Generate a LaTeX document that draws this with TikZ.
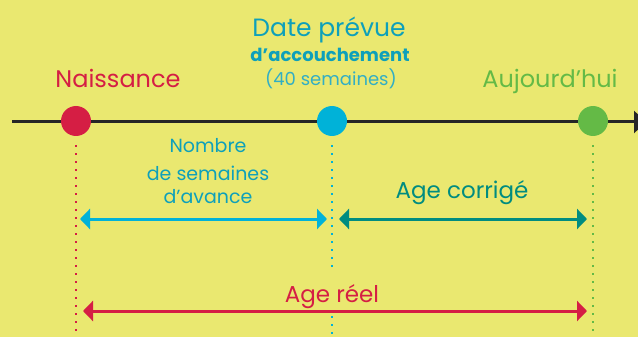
\documentclass[tikz,border=0pt]{standalone}
\usepackage{fontspec}
\setmainfont{Poppins}
\usetikzlibrary{arrows.meta, positioning}
\definecolor{bgyellow}{RGB}{234,232,112}
\definecolor{birthred}{RGB}{213,30,68}
\definecolor{duecyan}{RGB}{0,178,216}
\definecolor{duetext}{RGB}{14,160,186}
\definecolor{todaygreen}{RGB}{100,186,70}
\definecolor{corrteal}{RGB}{0,140,128}

\begin{document}
\begin{tikzpicture}[x=1pt, y=-1pt,
    event/.style={circle, fill=#1, minimum size=30pt, inner sep=0pt},
    guide/.style={#1, line width=2pt, dash pattern=on 2pt off 6pt},
    span/.style={#1, line width=3pt, {Triangle[length=10pt,width=20pt]}-{Triangle[length=10pt,width=20pt]}},
    tag/.style={text=#1, anchor=base, inner sep=0pt}]
        % Background
        \fill[bgyellow] (0,0) rectangle (638,337);
        \useasboundingbox (0,0) rectangle (638,337);
        \clip (0,0) rectangle (638,337);

        % Timeline
        \coordinate (start) at (12,122);
        \coordinate (end) at (646,122);
        \draw[line width=3pt, black!85, -{Triangle[length=12pt,width=22pt]}] (start) -- (end);

        % Events
        \node[event=birthred] (birth) at (76,121) {};
        \node[event=duecyan] (due) at (332,121) {};
        \node[event=todaygreen] (today) at (593,121) {};

        \node[tag=birthred, font=\fontsize{24}{24}\selectfont] (birthTxt) at (118,88) {Naissance};
        \node[tag=duetext, font=\fontsize{25}{25}\selectfont] (dueTxt) at (329,37) {Date prévue};
        \node[tag=duetext, font=\fontsize{18}{18}\selectfont\bfseries] (dueTxt2) at (330,62) {d’accouchement};
        \node[tag=duetext!85, font=\fontsize{18}{18}\selectfont] (dueTxt3) at (331,85) {(40 semaines)};
        \node[tag=todaygreen, font=\fontsize{24}{24}\selectfont] (todayTxt) at (550,88) {Aujourd’hui};

        % Guide lines
        \coordinate (birthTop) at (76,145);
        \coordinate (birthBot) at (76,337);
        \coordinate (dueTop) at (332,145);
        \coordinate (dueMid) at (332,270);
        \coordinate (dueLow) at (332,316);
        \coordinate (dueBot) at (332,337);
        \coordinate (todayTop) at (593,145);
        \coordinate (todayBot) at (593,337);
        \draw[guide=birthred] (birthTop) -- (birthBot);
        \draw[guide=duecyan] (dueTop) -- (dueMid);
        \draw[guide=duecyan] (dueLow) -- (dueBot);
        \draw[guide=todaygreen] (todayTop) -- (todayBot);

        % Spans
        \coordinate (advL) at (80,219);
        \coordinate (advR) at (327,219);
        \coordinate (corrL) at (339,219);
        \coordinate (corrR) at (587,219);
        \coordinate (realL) at (83,311);
        \coordinate (realR) at (587,311);
        \draw[span=duecyan] (advL) -- (advR);
        \draw[span=corrteal] (corrL) -- (corrR);
        \draw[span=birthred] (realL) -- (realR);

        \node[tag=duetext, font=\fontsize{19}{19}\selectfont] (advTxt) at (208,153) {Nombre};
        \node[tag=duetext, font=\fontsize{19}{19}\selectfont] (advTxt2) at (208,180) {de semaines};
        \node[tag=duetext, font=\fontsize{19}{19}\selectfont] (advTxt3) at (208,203) {d’avance};
        \node[tag=corrteal, font=\fontsize{23}{23}\selectfont] (corrTxt) at (462,198) {Age corrigé};
        \node[tag=birthred, font=\fontsize{23}{23}\selectfont] (realTxt) at (332,302) {Age réel};
      \end{tikzpicture}
\end{document}
